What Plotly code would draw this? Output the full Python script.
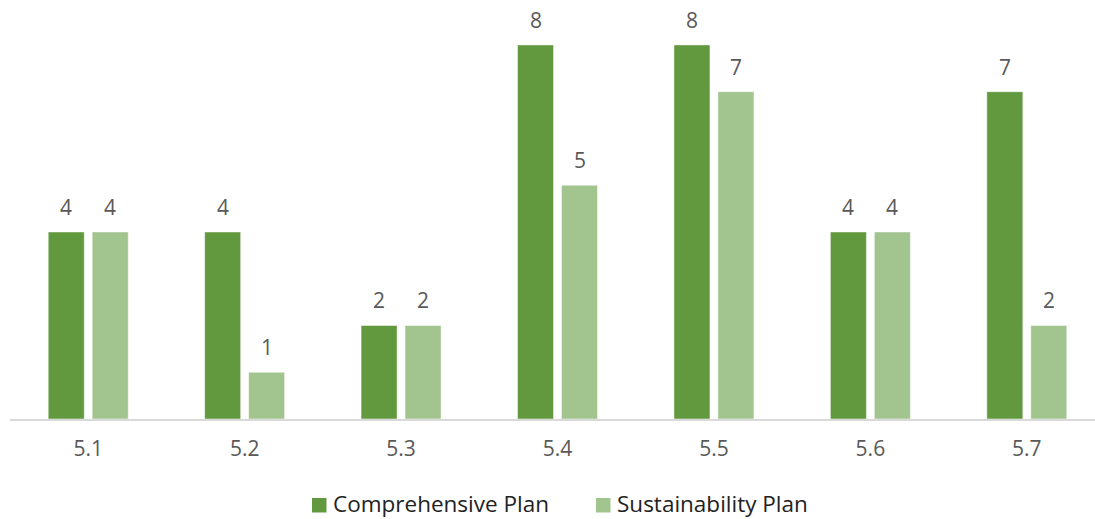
import plotly.graph_objects as go

categories = ["5.1", "5.2", "5.3", "5.4", "5.5", "5.6", "5.7"]
comprehensive = [4, 4, 2, 8, 8, 4, 7]
sustainability = [4, 1, 2, 5, 7, 4, 2]
series_names = ["Comprehensive Plan", "Sustainability Plan"]

dark = "#62993E"
light = "#A2C48F"
gray = "#595959"
font_family = "'Open Sans', Lato, sans-serif"

# (name, values, colour, label x-shift in px, legend swatch left px)
series = [(series_names[0], comprehensive, dark, -22, 312),
          (series_names[1], sustainability, light, 22, 596)]

L, W, T, H = 10, 1085, 0, 419  # plot area in px


def px_x(p):
    return (p - L) / W


def px_y(p):
    return (T + H - p) / H


fig = go.Figure()
for name, vals, col, _, _ in series:
    fig.add_trace(go.Bar(
        x=categories, y=vals, name=name, showlegend=False,
        marker=dict(color=col, line=dict(color="white", width=0.5)),
    ))

# data labels (category index positions on the category axis)
for name, vals, col, dx, _ in series:
    for i, v in enumerate(vals):
        fig.add_annotation(
            x=i, y=v, xref="x", yref="y", text=str(v), showarrow=False,
            xanchor="center", yanchor="bottom", xshift=dx, yshift=9,
            font=dict(size=21, color=gray, family=font_family),
        )

# legend drawn manually (larger swatches, tight text spacing)
for name, vals, col, _, left in series:
    fig.add_shape(
        type="rect", xref="paper", yref="paper",
        x0=px_x(left), x1=px_x(left + 14.5), y0=px_y(512.5), y1=px_y(498),
        fillcolor=col, line=dict(width=0),
    )
    fig.add_annotation(
        x=px_x(left + 20), y=px_y(503), xref="paper", yref="paper",
        text=name, showarrow=False, xanchor="left", yanchor="middle",
        borderpad=0,
        font=dict(size=22.5, color="#222222", family=font_family),
    )

fig.update_layout(
    width=1095, height=519,
    margin=dict(l=L, r=0, t=T, b=519 - T - H, autoexpand=False),
    paper_bgcolor="white", plot_bgcolor="white",
    barmode="group", bargap=0.438, bargroupgap=0.18,
    font=dict(family=font_family, color=gray),
    showlegend=False,
    xaxis=dict(
        type="category",
        range=[-0.5, 6.436], showgrid=False, zeroline=False,
        showline=True, linecolor="#D9D9D9", linewidth=2,
        ticks="", tickfont=dict(size=21, color=gray, family=font_family),
        ticklabelstandoff=10,
    ),
    yaxis=dict(range=[0, 8.96], visible=False),
)

fig.write_html("out.html")
